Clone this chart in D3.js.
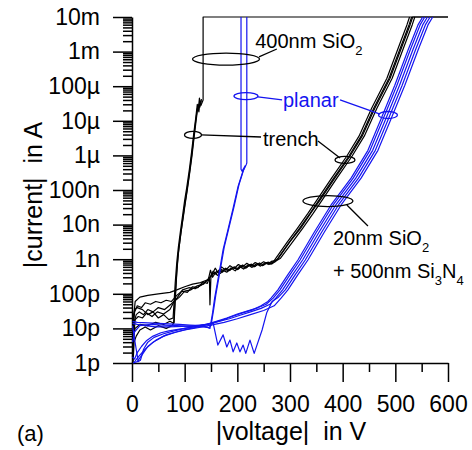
<!DOCTYPE html>
<html>
<head>
<script src="https://d3js.org/d3.v7.min.js"></script>
<style>
  body { margin: 0; background: #fff; }
  text { font-family: "Liberation Sans", Arial, sans-serif; }
</style>
</head>
<body>
<script>
// ---- data: [voltage in V, |current| in A] ----
const xTicks = [0, 100, 200, 300, 400, 500, 600];
const yTicks = [1e-12, 1e-11, 1e-10, 1e-9, 1e-8, 1e-7, 1e-6, 1e-5, 1e-4, 1e-3, 1e-2];
const yLabels = ['1p', '10p', '100p', '1n', '10n', '100n', '1µ', '10µ', '100µ', '1m', '10m'];

// trench devices, 400nm SiO2
const trench1 = [[1,1.5e-12],[3,6e-12],[6,1e-11],[15,1.3e-11],[30,1.2e-11],[45,1.5e-11],[60,1.3e-11],[72,1.6e-11],[79,1.4e-11],[81,4e-11],[83,1.5e-10],[86,7e-10],[89,2e-9],[93,6e-9],[97,1.5e-8],[101,4e-8],[105,1e-7],[110,3.5e-7],[114,1e-6],[118,3.5e-6],[122,1.1e-5],[125,2.5e-5],[127,1.8e-5],[129,3.5e-5],[131,2.8e-5],[135,4e-5],[135,1e-2],[600,1e-2]];
const trench2 = [[1,3e-12],[2,2e-11],[5,3.5e-11],[10,4e-11],[20,3.5e-11],[30,2.5e-11],[40,3e-11],[50,2e-11],[60,2.5e-11],[70,1.8e-11],[78,2e-11],[80,6e-11],[82,2e-10],[85,8e-10],[88,2.2e-9],[92,6.5e-9],[96,1.8e-8],[100,5e-8],[104,1.2e-7],[109,4e-7],[113,1.2e-6],[117,4e-6],[121,1.2e-5],[124,3e-5],[126,2.2e-5],[128,4.5e-5],[130,3e-5],[132,4.2e-5]];
const trench3 = [[2,1e-12],[4,4e-12],[8,6e-12],[15,9e-12],[25,1.1e-11],[35,9e-12],[50,1.2e-11],[65,1e-11],[76,1.2e-11],[80,1.5e-11],[82,6e-11],[85,4e-10],[88,1.5e-9],[92,4.5e-9],[96,1.3e-8],[100,3.5e-8],[104,9e-8],[109,3e-7],[113,9e-7],[117,3e-6],[121,1e-5],[124,2.2e-5],[127,3e-5],[129,2.5e-5],[131,3.8e-5]];

// trench devices, 20nm SiO2 + 500nm Si3N4
const nitrideTrench1 = [[1,2e-12],[3,2e-11],[6,6e-11],[15,8e-11],[30,9e-11],[50,1e-10],[72,1.1e-10],[85,1.3e-10],[100,1.6e-10],[115,1.9e-10],[130,2.1e-10],[145,2.6e-10],[149,4.8e-10],[153,3e-10],[160,4.4e-10],[168,3.9e-10],[176,5.2e-10],[184,4.6e-10],[192,5.8e-10],[200,5e-10],[208,6.4e-10],[216,5.5e-10],[224,7e-10],[232,6e-10],[240,7.4e-10],[248,6.5e-10],[256,8e-10],[264,7.2e-10],[272,8.5e-10],[278,1.07e-9],[300,3.2e-9],[320,7.8e-9],[340,2.2e-8],[357,5.1e-8],[385,2.2e-7],[414,9.6e-7],[437,3.6e-6],[461,2.3e-5],[490,1.7e-4],[514,1.6e-3],[528,5.9e-3],[533,1e-2],[600,1e-2]];
const nitrideTrench2 = [[1,1.5e-12],[2,1e-11],[5,3e-11],[10,4.5e-11],[18,4e-11],[25,5.5e-11],[35,5e-11],[45,6e-11],[55,5.5e-11],[65,6.5e-11],[75,6e-11],[85,9e-11],[95,1.2e-10],[105,1.1e-10],[115,1.6e-10],[125,1.5e-10],[135,2.2e-10],[143,2e-10],[147,3e-10],[148,4.8e-11],[150,3.5e-10],[154,4.5e-10],[160,3.8e-10],[166,5e-10],[172,4.2e-10],[178,5.5e-10],[186,4.8e-10],[194,6e-10],[202,5.2e-10],[210,6.8e-10],[218,5.8e-10],[226,7.2e-10],[234,6.2e-10],[242,7.8e-10],[250,6.8e-10],[258,8.2e-10],[266,7.5e-10],[272,1e-9],[294,3e-9],[314,7.8e-9],[334,2.1e-8],[351,5.1e-8],[379,2.2e-7],[408,9.6e-7],[431,3.6e-6],[455,2.3e-5],[484,1.7e-4],[508,1.6e-3],[522,5.9e-3],[527,1e-2]];
const nitrideTrench3 = [[2,2e-12],[4,1.5e-11],[8,2.5e-11],[14,3e-11],[22,2.5e-11],[30,3.5e-11],[40,3e-11],[50,4e-11],[62,3.5e-11],[74,5e-11],[84,7e-11],[96,1.3e-10],[108,1.5e-10],[120,1.4e-10],[132,1.8e-10],[142,2.4e-10],[152,3.6e-10],[158,5.5e-10],[164,4e-10],[170,6e-10],[178,4.8e-10],[186,6.5e-10],[194,5.4e-10],[202,7e-10],[210,6e-10],[218,7.6e-10],[226,6.4e-10],[234,8e-10],[242,7e-10],[250,8.4e-10],[258,7.4e-10],[266,8.8e-10],[274,9e-10],[282,1.07e-9],[304,3e-9],[324,7.8e-9],[344,2.1e-8],[361,5.1e-8],[389,2.2e-7],[418,9.6e-7],[441,3.6e-6],[465,2.3e-5],[494,1.7e-4],[518,1.6e-3],[532,5.9e-3],[537,1e-2]];
const nitrideTrench4 = [[1,1e-12],[3,5e-12],[6,1.8e-11],[12,2.2e-11],[20,2e-11],[28,2.8e-11],[38,2.2e-11],[48,3e-11],[60,2.6e-11],[72,3.5e-11],[80,6e-11],[90,8e-11],[100,1.2e-10],[112,1.3e-10],[124,1.7e-10],[136,1.9e-10],[146,2.8e-10],[156,4e-10],[163,3.4e-10],[170,5e-10],[180,4.2e-10],[188,5.6e-10],[196,4.6e-10],[204,6.2e-10],[212,5.2e-10],[220,6.8e-10],[228,5.8e-10],[236,7.4e-10],[244,6.3e-10],[252,7.8e-10],[260,7e-10],[268,8.5e-10],[276,1e-9],[298,3e-9],[318,7.8e-9],[338,2.1e-8],[355,5.1e-8],[383,2.2e-7],[412,9.6e-7],[435,3.6e-6],[459,2.3e-5],[488,1.7e-4],[512,1.6e-3],[526,5.9e-3],[531,1e-2]];

// planar devices, 400nm SiO2
const planar1 = [[1,1.6e-11],[10,1.5e-11],[30,1.45e-11],[50,1.4e-11],[70,1.35e-11],[90,1.3e-11],[110,1.25e-11],[130,1.2e-11],[142,1.1e-11],[148,1e-11],[153,2.8e-11],[157,7.6e-11],[163,2.5e-10],[168,6.8e-10],[173,1.9e-9],[182,6.9e-9],[192,3e-8],[201,1.2e-7],[210,3.3e-7],[215,5e-7],[209,3.5e-7],[207,4e-7],[207,1e-2]];
const planar2 = [[1,4e-12],[5,8e-12],[15,1.2e-11],[35,1.3e-11],[60,1.25e-11],[85,1.2e-11],[110,1.15e-11],[135,1.1e-11],[146,1.05e-11],[150,1.2e-11],[155,3.5e-11],[159,9e-11],[165,3e-10],[170,8e-10],[175,2.2e-9],[184,8e-9],[194,3.4e-8],[203,1.4e-7],[212,3.8e-7],[217,5.5e-7],[218,6e-7],[218,1e-2]];

// planar devices, 20nm SiO2 + 500nm Si3N4
const nitridePlanar1 = [[1,1.5e-12],[5,1.3e-12],[10,2e-12],[18,3e-12],[28,4.5e-12],[40,6e-12],[55,7.5e-12],[70,8.5e-12],[90,9.5e-12],[110,1.05e-11],[130,1.2e-11],[150,1.4e-11],[170,1.7e-11],[190,2.2e-11],[210,2.8e-11],[230,3.5e-11],[245,4.5e-11],[258,6e-11],[264,7.5e-11],[277,1.3e-10],[296,3.6e-10],[315,9.5e-10],[346,6e-9],[378,3.7e-8],[416,2.2e-7],[448,1.4e-6],[472,1.05e-5],[499,1.07e-4],[524,1.1e-3],[543,5.9e-3],[552,1e-2]];
const nitridePlanar2 = [[1,1.2e-11],[4,6e-12],[8,2.5e-12],[12,1.1e-12],[16,1.2e-12],[22,2.5e-12],[30,4e-12],[42,5.5e-12],[60,7e-12],[80,8.5e-12],[100,1e-11],[120,1.15e-11],[140,1.3e-11],[160,1.6e-11],[180,2e-11],[200,2.6e-11],[220,3.2e-11],[240,4e-11],[255,5e-11],[268,7.5e-11],[281,1.3e-10],[300,3.6e-10],[319,9.5e-10],[350,6e-9],[382,3.7e-8],[420,2.2e-7],[452,1.4e-6],[476,1.05e-5],[503,1.07e-4],[528,1.1e-3],[547,5.9e-3],[556,1e-2]];
const nitridePlanar3 = [[2,1e-12],[10,1.1e-12],[20,1.8e-12],[30,3e-12],[45,4.5e-12],[65,6.5e-12],[85,8e-12],[105,9.5e-12],[125,1.1e-11],[145,1.3e-11],[165,1.6e-11],[185,1.9e-11],[205,2.4e-11],[225,3e-11],[245,3.8e-11],[262,5e-11],[273,7.5e-11],[286,1.3e-10],[305,3.6e-10],[324,9.5e-10],[355,6e-9],[387,3.7e-8],[425,2.2e-7],[457,1.4e-6],[481,1.05e-5],[508,1.07e-4],[533,1.1e-3],[552,5.9e-3],[561,1e-2]];
const nitridePlanar4 = [[1,1.4e-11],[10,1.3e-11],[25,1.2e-11],[45,1.1e-11],[70,1.1e-11],[95,1.15e-11],[120,1.2e-11],[142,1.3e-11],[154,1.45e-11],[163,3.3e-12],[173,6.5e-12],[180,2.9e-12],[186,4.6e-12],[192,2.1e-12],[199,3.8e-12],[205,2.1e-12],[211,3.3e-12],[216,1.9e-12],[224,4.6e-12],[232,1.9e-12],[247,9e-12],[256,2.9e-11],[266,6e-11],[278,8e-11],[291,1.3e-10],[310,3.6e-10],[329,9.5e-10],[360,6e-9],[392,3.7e-8],[430,2.2e-7],[462,1.4e-6],[486,1.05e-5],[513,1.07e-4],[538,1.1e-3],[557,5.9e-3],[566,1e-2]];
const nitridePlanar5 = [[3,1e-12],[12,1.5e-12],[25,2.5e-12],[40,4e-12],[60,6e-12],[80,7.5e-12],[100,9e-12],[125,1.05e-11],[150,1.25e-11],[175,1.5e-11],[200,1.9e-11],[225,2.5e-11],[250,3.3e-11],[270,4.5e-11],[283,7.5e-11],[296,1.3e-10],[315,3.6e-10],[334,9.5e-10],[365,6e-9],[397,3.7e-8],[435,2.2e-7],[467,1.4e-6],[491,1.05e-5],[518,1.07e-4],[543,1.1e-3],[562,5.9e-3],[571,1e-2]];

const blackCurves = [trench1, trench2, trench3, nitrideTrench1, nitrideTrench2, nitrideTrench3, nitrideTrench4];
const blueCurves = [planar1, planar2, nitridePlanar1, nitridePlanar2, nitridePlanar3, nitridePlanar4, nitridePlanar5];

const black = '#000';
const blue = '#1414f0';

let svg = d3.select('body').append('svg').attr('width', 472).attr('height', 450);

let x = d3.scaleLinear().domain([0, 600]).range([132, 448]);
let y = d3.scaleLog().domain([1e-12, 1e-2]).range([363, 17]);

// minor tick positions
let yMinor = [];
yTicks.slice(0, -1).forEach(p => d3.range(2, 10).forEach(k => yMinor.push(p * k)));
let xMinor = d3.range(50, 600, 100);

// axes
svg.append('g').attr('transform', 'translate(132,0)')
  .call(d3.axisLeft(y).tickValues(yTicks).tickFormat((d, i) => yLabels[i]).tickSize(19).tickPadding(13).tickSizeOuter(0));
svg.append('g').attr('transform', 'translate(132,0)')
  .call(d3.axisLeft(y).tickValues(yMinor).tickFormat('').tickSize(9).tickSizeOuter(0))
  .select('.domain').remove();

svg.append('g').attr('transform', 'translate(0,363)')
  .call(d3.axisBottom(x).tickValues(xTicks).tickFormat(d3.format('d')).tickSize(19).tickPadding(14).tickSizeOuter(0));
svg.append('g').attr('transform', 'translate(0,363)')
  .call(d3.axisBottom(x).tickValues(xMinor).tickFormat('').tickSize(9).tickSizeOuter(0))
  .select('.domain').remove();

svg.selectAll('.tick line, .domain').attr('stroke', '#000').attr('stroke-width', 1.5);
svg.selectAll('.tick text').style('font-size', '23px').attr('fill', '#000');

// curves
let line = d3.line().x(d => x(d[0])).y(d => y(d[1]));
svg.append('g').selectAll('path').data(blackCurves).enter().append('path')
  .attr('d', line).attr('fill', 'none').attr('stroke', black).attr('stroke-width', 1.2).attr('stroke-linejoin', 'round');
svg.append('g').selectAll('path').data(blueCurves).enter().append('path')
  .attr('d', line).attr('fill', 'none').attr('stroke', blue).attr('stroke-width', 1.2).attr('stroke-linejoin', 'round');

// annotations (anchors in data units)
let ann = svg.append('g').attr('fill', 'none').attr('stroke-width', 1.3);
function ellipse(v, i, rx, ry, col) {
  ann.append('ellipse').attr('cx', x(v)).attr('cy', y(i)).attr('rx', rx).attr('ry', ry).attr('stroke', col);
}
function leader(v1, i1, v2, i2, col) {
  ann.append('line').attr('x1', x(v1)).attr('y1', y(i1)).attr('x2', x(v2)).attr('y2', y(i2)).attr('stroke', col);
}
function label(v, i, parts, col) {
  let t = svg.append('text').attr('x', x(v)).attr('y', y(i)).attr('fill', col).style('font-size', '20px');
  parts.forEach(p => {
    if (p.sub) t.append('tspan').attr('dy', 7).style('font-size', '13px').text(p.sub);
    else t.append('tspan').attr('dy', p.up ? -7 : 0).text(p.t);
  });
}

// 400nm SiO2
ellipse(178.5, 6.1e-4, 33.5, 6, black);
leader(241, 7e-4, 275, 1.19e-3, black);
label(234, 1.27e-3, [{t: '400nm SiO'}, {sub: '2'}], black);

// planar
ellipse(216.4, 5.2e-5, 12, 3.5, blue);
leader(239, 4.9e-5, 285, 4e-5, blue);
label(286.7, 2.5e-5, [{t: 'planar'}], blue);
leader(395, 4e-5, 471, 1.57e-5, blue);
ellipse(486, 1.47e-5, 9.5, 3.5, blue);

// trench
ellipse(115.8, 3.9e-6, 8.5, 3.5, black);
leader(131, 3.9e-6, 245, 3.4e-6, black);
label(248.7, 1.87e-6, [{t: 'trench'}], black);
leader(353, 2.6e-6, 395, 8.4e-7, black);
ellipse(404.4, 7.4e-7, 10, 3.5, black);

// 20nm SiO2 + 500nm Si3N4
ellipse(372, 4.8e-8, 25, 5.5, black);
leader(408, 3.7e-8, 448, 9.1e-9, black);
label(381.6, 2.6e-9, [{t: '20nm SiO'}, {sub: '2'}], black);
label(381.6, 2.9e-10, [{t: '+ 500nm Si'}, {sub: '3'}, {t: 'N', up: true}, {sub: '4'}], black);

// axis titles
svg.append('text').attr('transform', 'translate(42,195) rotate(-90)').attr('text-anchor', 'middle')
  .style('font-size', '25px').style('white-space', 'pre').text('|current|  in A');
svg.append('text').attr('x', 291).attr('y', 440).attr('text-anchor', 'middle')
  .style('font-size', '25px').style('white-space', 'pre').text('|voltage|  in V');
svg.append('text').attr('x', 17).attr('y', 441).style('font-size', '22px').text('(a)');
</script>
</body>
</html>
